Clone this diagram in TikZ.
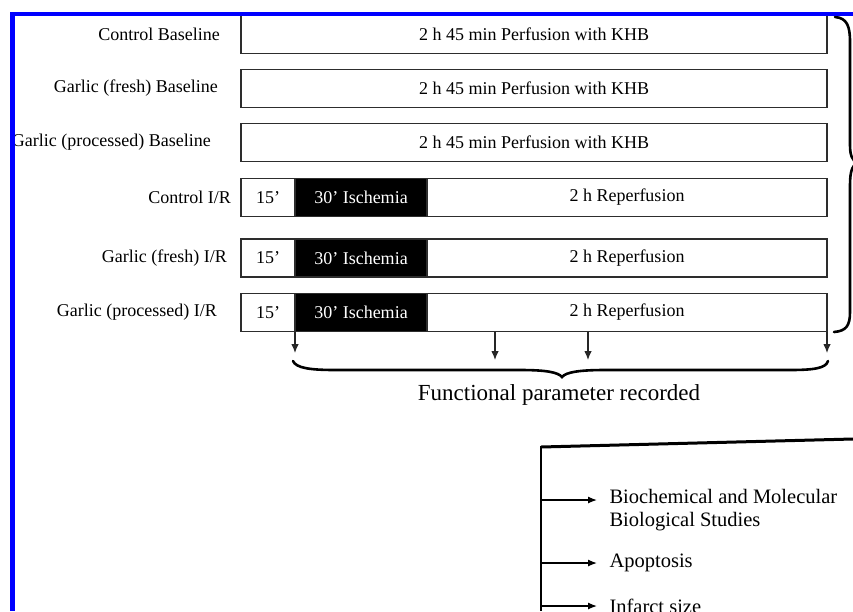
\documentclass[tikz,border=0pt]{standalone}
\usepackage{fontspec}
\setmainfont{Liberation Serif}
\usetikzlibrary{arrows.meta,calc}
\definecolor{frameblue}{RGB}{0,0,255}
\definecolor{boxgray}{RGB}{45,45,45}

\begin{document}
\begin{tikzpicture}[x=1pt,y=-1pt,
  rowbox/.style={draw=boxgray,line width=1.4pt,anchor=west,minimum height=38pt,inner sep=0pt,outer sep=0pt,font=\fontsize{18}{20}\selectfont},
  rowlab/.style={anchor=east,inner sep=0pt,font=\fontsize{18}{20}\selectfont},
  tick/.style={-{Latex[length=9pt,width=7.5pt]},line width=1.1pt,draw=black!85},
  outarrow/.style={-{Latex[length=9pt,width=7pt]},line width=1.3pt,shorten >=9pt},
  curly/.style={line width=2.6pt,line cap=round},
  outlab/.style={anchor=west,align=left,font=\fontsize{20.5}{23}\selectfont}]
  \useasboundingbox (0,0) rectangle (853,611);
  \clip (0,0) rectangle (853,611);

  \node[rowlab] (lab1) at (220,34.5) {Control Baseline};
  \node[rowbox,minimum width=586pt] (khb1) at (241,34.5) {2 h 45 min Perfusion with KHB};
  \node[rowlab] (lab2) at (218,88.5) {Garlic (fresh) Baseline};
  \node[rowbox,minimum width=586pt] (khb2) at (241,88.5) {2 h 45 min Perfusion with KHB};
  \node[rowlab] (lab3) at (211,142.5) {Garlic (processed) Baseline};
  \node[rowbox,minimum width=586pt] (khb3) at (241,142.5) {2 h 45 min Perfusion with KHB};

  \node[rowlab] (lab4) at (231,197.5) {Control I/R};
  \node[rowbox,minimum width=54pt] (pre4) at (241,197.5) {15’};
  \node[rowbox,minimum width=132pt,fill=black,text=white] (isc4) at (pre4.east) {30’ Ischemia};
  \node[rowbox,minimum width=400pt] (rep4) at (isc4.east) {2 h Reperfusion};
  \node[rowlab] (lab5) at (227,258) {Garlic (fresh) I/R};
  \node[rowbox,minimum width=54pt] (pre5) at (241,258) {15’};
  \node[rowbox,minimum width=132pt,fill=black,text=white] (isc5) at (pre5.east) {30’ Ischemia};
  \node[rowbox,minimum width=400pt] (rep5) at (isc5.east) {2 h Reperfusion};
  \node[rowlab] (lab6) at (217,312.5) {Garlic (processed) I/R};
  \node[rowbox,minimum width=54pt] (pre6) at (241,312.5) {15’};
  \node[rowbox,minimum width=132pt,fill=black,text=white] (isc6) at (pre6.east) {30’ Ischemia};
  \node[rowbox,minimum width=400pt] (rep6) at (isc6.east) {2 h Reperfusion};

  \draw[tick] (isc6.south west) -- ($(isc6.south west)+(0,21.5)$);
  \draw[tick] ($(rep6.south west)+(68,0)$) -- ($(rep6.south west)+(68,28.5)$);
  \draw[tick] ($(rep6.south west)+(161,0)$) -- ($(rep6.south west)+(161,28.5)$);
  \draw[tick] (rep6.south east) -- ($(rep6.south east)+(0,21.5)$);

  \draw[curly] (293,361) .. controls (296,368) and (310,370) .. (335,370) -- (520,370)
    .. controls (545,370) and (558,372) .. (562,377) .. controls (566,372) and (580,370) .. (605,370)
    -- (790,370) .. controls (815,370) and (826,368) .. (828,361);
  \draw[curly] (835,17) .. controls (847,18) and (850,26) .. (850,42) -- (850,145)
    .. controls (850,155) and (852,160) .. (857,163) .. controls (852,166) and (850,172) .. (850,185)
    -- (850,312) .. controls (850,326) and (846,331) .. (834,332);
  \node[font=\fontsize{23}{26}\selectfont] (fpr) at (559,395) {Functional parameter recorded};

  \draw[line width=3pt] (541,447) -- (853,439);
  \draw[line width=2pt] (541,446) -- (541,611);
  \coordinate (s1) at (541,500);
  \coordinate (s2) at (541,563);
  \coordinate (s3) at (541,606);
  \node[outlab] (bio) at (606,510.5) {Biochemical and Molecular\\Biological Studies};
  \node[outlab] (apo) at (606,563) {Apoptosis};
  \node[outlab] (inf) at (606,606) {Infarct size};
  \draw[outarrow] (s1) -- (s1 -| bio.west);
  \draw[outarrow] (s2) -- (apo.west);
  \draw[outarrow] (s3) -- (s3 -| inf.west);

  \draw[frameblue,line width=4pt] (10,14) -- (853,14);
  \draw[frameblue,line width=5pt] (12.5,12) -- (12.5,611);
\end{tikzpicture}
\end{document}
